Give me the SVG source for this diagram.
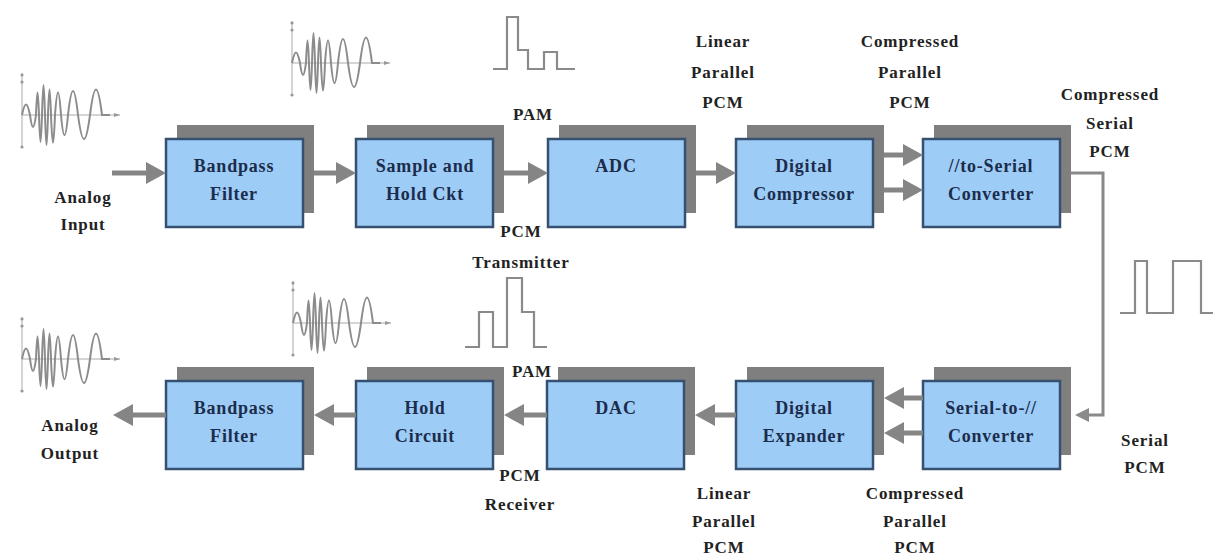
<svg xmlns="http://www.w3.org/2000/svg" width="1214" height="558" viewBox="0 0 1214 558">
<style>
.bg{fill:#ffffff}
.shadow{fill:#7f7f7f}
.box{fill:#9dcdf7;stroke:#35516f;stroke-width:2.5}
.bt{font-family:"Liberation Serif","Times New Roman",serif;font-weight:bold;font-size:18px;letter-spacing:0.8px;fill:#1c2c4c;text-anchor:middle}
.lb{font-family:"Liberation Serif","Times New Roman",serif;font-weight:bold;font-size:17px;letter-spacing:0.9px;fill:#222222;text-anchor:middle}
.arr{stroke:#858585;stroke-width:5;fill:none;marker-end:url(#ah)}
.ser{stroke:#8a8a8a;stroke-width:3;fill:none;marker-end:url(#ah2)}
.wv{stroke:#8c8c8c;stroke-width:2;fill:none}
.ax{stroke:#aaaaaa;stroke-width:1;fill:none}
.dot{fill:#999999}
.pl{stroke:#8a8a8a;stroke-width:2.2;fill:none}
</style>
<defs>
<marker id="ah" markerUnits="userSpaceOnUse" markerWidth="20" markerHeight="22" refX="10" refY="11" orient="auto" viewBox="0 0 20 22">
<path d="M0,0 L20,11 L0,22 z" fill="#858585"/>
</marker>
<marker id="ah2" markerUnits="userSpaceOnUse" markerWidth="14" markerHeight="14" refX="6" refY="7" orient="auto" viewBox="0 0 14 14">
<path d="M0,0 L14,7 L0,14 z" fill="#8a8a8a"/>
</marker>
<g id="wave">
<path class="ax" d="M0,-42 V33 M0,0 H98"/>
<circle class="dot" cx="0" cy="-40" r="1.6"/>
<circle class="dot" cx="0" cy="-33" r="1.6"/>
<circle class="dot" cx="0" cy="32" r="1.6"/>
<path d="M92,-2 L98,0 L92,2 z" fill="#999999"/>
<path class="wv" d="M0,0 c2.9,-14 5.1,-14 8,0 c2.2,16 3.8,16 6,0 c1.1,-30 1.9,-30 3,0 c1.1,36 1.9,36 3,0 c1.1,-40 1.9,-40 3,0 c1.1,40 1.9,40 3,0 c1.1,-34 1.9,-34 3,0 c1.4,37 2.6,37 4,0 c2.2,-30 3.8,-30 6,0 c2.5,27 4.5,27 7,0 c3.6,-32 6.4,-32 10,0 c4.3,32 7.7,32 12,0 c4.3,-34 7.7,-34 12,0 h8"/>
</g>
</defs>
<rect class="bg" x="0" y="0" width="1214" height="558"/>

<g id="waveforms">
<use href="#wave" transform="translate(22,115)"/>
<use href="#wave" transform="translate(292,63)"/>
<use href="#wave" transform="translate(293,323)"/>
<use href="#wave" transform="translate(22,359)"/>
<path class="pl" d="M493,69 H507 V17 H518 V50 H528 V69 H544 V52 H557 V69 H575"/>
<path class="pl" d="M465,347 H479 V312 H493 V347 H507 V278 H522 V312 H534 V347 H547"/>
<path class="pl" d="M1120,313 H1135 V261 H1147 V313 H1173 V261 H1201 V313 H1213"/>
</g>

<g id="tx-bandpass">
<rect class="shadow" x="177" y="125" width="137" height="88"/>
<rect class="box" x="166" y="139" width="137" height="88"/>
<text class="bt" x="234" y="172">Bandpass</text>
<text class="bt" x="234" y="200">Filter</text>
</g>
<g id="sample-hold">
<rect class="shadow" x="367" y="125" width="137" height="88"/>
<rect class="box" x="356" y="139" width="137" height="88"/>
<text class="bt" x="425" y="172">Sample and</text>
<text class="bt" x="425" y="200">Hold Ckt</text>
</g>
<g id="adc">
<rect class="shadow" x="559" y="125" width="137" height="88"/>
<rect class="box" x="548" y="139" width="137" height="88"/>
<text class="bt" x="616" y="172">ADC</text>
</g>
<g id="digital-compressor">
<rect class="shadow" x="747" y="125" width="137" height="88"/>
<rect class="box" x="736" y="139" width="137" height="88"/>
<text class="bt" x="804" y="172">Digital</text>
<text class="bt" x="804" y="200">Compressor</text>
</g>
<g id="par-to-serial">
<rect class="shadow" x="934" y="125" width="137" height="88"/>
<rect class="box" x="923" y="139" width="137" height="88"/>
<text class="bt" x="991" y="172">//to-Serial</text>
<text class="bt" x="991" y="200">Converter</text>
</g>

<g id="rx-bandpass">
<rect class="shadow" x="177" y="367" width="137" height="88"/>
<rect class="box" x="166" y="381" width="137" height="88"/>
<text class="bt" x="234" y="414">Bandpass</text>
<text class="bt" x="234" y="442">Filter</text>
</g>
<g id="hold-circuit">
<rect class="shadow" x="367" y="367" width="137" height="88"/>
<rect class="box" x="356" y="381" width="137" height="88"/>
<text class="bt" x="425" y="414">Hold</text>
<text class="bt" x="425" y="442">Circuit</text>
</g>
<g id="dac">
<rect class="shadow" x="558" y="367" width="137" height="88"/>
<rect class="box" x="547" y="381" width="137" height="88"/>
<text class="bt" x="616" y="414">DAC</text>
</g>
<g id="digital-expander">
<rect class="shadow" x="747" y="367" width="137" height="88"/>
<rect class="box" x="736" y="381" width="137" height="88"/>
<text class="bt" x="804" y="414">Digital</text>
<text class="bt" x="804" y="442">Expander</text>
</g>
<g id="serial-to-par">
<rect class="shadow" x="934" y="367" width="137" height="88"/>
<rect class="box" x="923" y="381" width="137" height="88"/>
<text class="bt" x="991" y="414">Serial-to-//</text>
<text class="bt" x="991" y="442">Converter</text>
</g>

<g id="connectors">
<path class="arr" d="M112,173 H156"/>
<path class="arr" d="M314,173 H346"/>
<path class="arr" d="M504,173 H538"/>
<path class="arr" d="M696,173 H726"/>
<path class="arr" d="M884,155 H913"/>
<path class="arr" d="M884,190 H913"/>
<path class="ser" d="M1071,173 H1103 V415 H1083"/>
<path class="arr" d="M923,398 H894"/>
<path class="arr" d="M923,433 H894"/>
<path class="arr" d="M736,415 H705"/>
<path class="arr" d="M547,415 H514"/>
<path class="arr" d="M356,415 H324"/>
<path class="arr" d="M166,415 H123"/>
</g>

<g id="labels">
<text class="lb" x="83" y="203">Analog</text>
<text class="lb" x="83" y="230">Input</text>
<text class="lb" x="533" y="120">PAM</text>
<text class="lb" x="521" y="237">PCM</text>
<text class="lb" x="521" y="268">Transmitter</text>
<text class="lb" x="723" y="47">Linear</text>
<text class="lb" x="723" y="78">Parallel</text>
<text class="lb" x="723" y="108">PCM</text>
<text class="lb" x="910" y="47">Compressed</text>
<text class="lb" x="910" y="78">Parallel</text>
<text class="lb" x="910" y="108">PCM</text>
<text class="lb" x="1110" y="100">Compressed</text>
<text class="lb" x="1110" y="129">Serial</text>
<text class="lb" x="1110" y="157">PCM</text>
<text class="lb" x="1145" y="446">Serial</text>
<text class="lb" x="1145" y="473">PCM</text>
<text class="lb" x="915" y="499">Compressed</text>
<text class="lb" x="915" y="527">Parallel</text>
<text class="lb" x="915" y="553">PCM</text>
<text class="lb" x="724" y="499">Linear</text>
<text class="lb" x="724" y="527">Parallel</text>
<text class="lb" x="724" y="553">PCM</text>
<text class="lb" x="532" y="377">PAM</text>
<text class="lb" x="520" y="481">PCM</text>
<text class="lb" x="520" y="510">Receiver</text>
<text class="lb" x="70" y="431">Analog</text>
<text class="lb" x="70" y="459">Output</text>
</g>
</svg>
